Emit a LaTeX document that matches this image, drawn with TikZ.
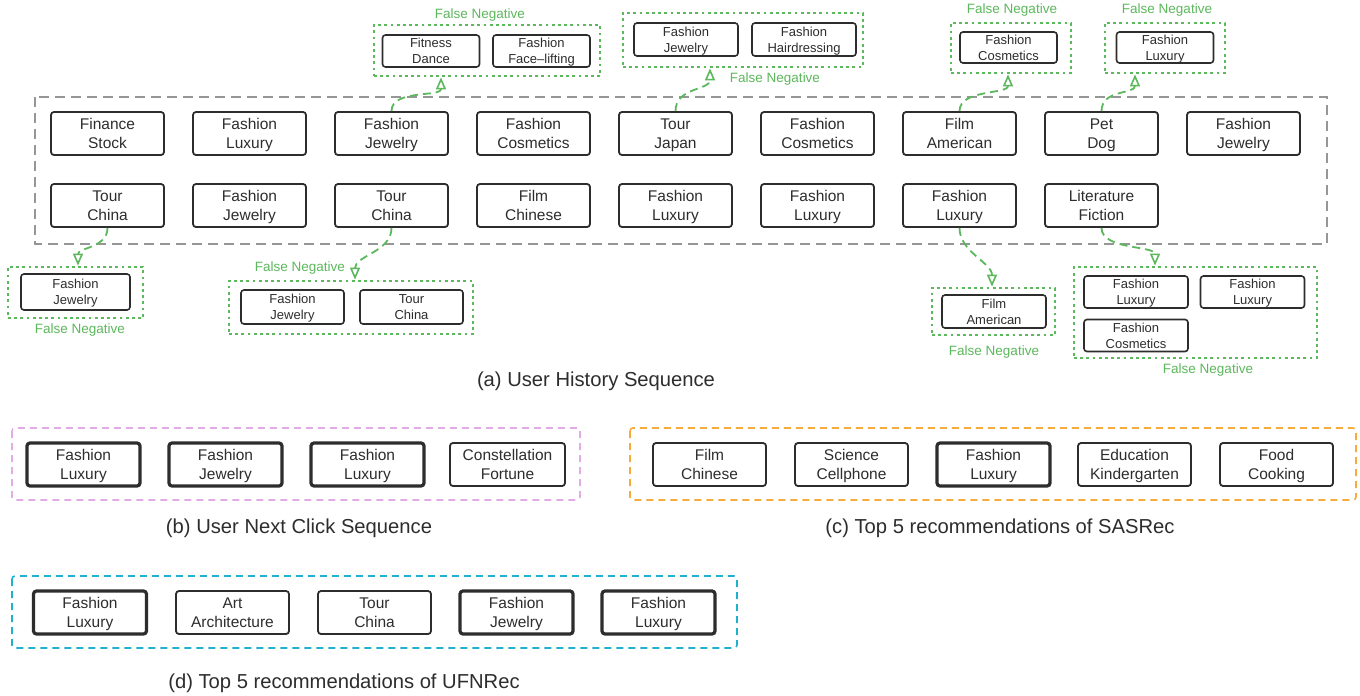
\documentclass[tikz,border=0pt]{standalone}
\usepackage{fontspec}
\setmainfont{Liberation Sans}
\usetikzlibrary{arrows.meta,calc}
\definecolor{fng}{RGB}{92,184,92}
\definecolor{boxc}{RGB}{45,45,45}
\definecolor{histc}{RGB}{150,150,150}
\definecolor{pinkc}{RGB}{225,172,230}
\definecolor{orangec}{RGB}{246,172,60}
\definecolor{cyanc}{RGB}{30,176,205}
\tikzset{
  item/.style={draw=boxc, line width=1.8pt, rounded corners=3pt, minimum width=113pt, minimum height=43pt, inner sep=0pt, align=center, text=boxc, text depth=0pt, font=\fontsize{15.5}{19}\selectfont},
  hot/.style={item, line width=3.2pt},
  smallitem/.style={draw=boxc, line width=1.6pt, rounded corners=3pt, minimum width=97pt, minimum height=32pt, inner sep=0pt, align=center, text=boxc, text depth=0pt, font=\fontsize{13}{16}\selectfont},
  fnbox/.style={draw=fng, line width=2.8pt, dash pattern=on 2.8pt off 3.4pt, inner sep=0pt},
  fnlabel/.style={text=fng, font=\fontsize{13.5}{16}\selectfont},
  fnarrow/.style={draw=fng, line width=1.8pt, dash pattern=on 8pt off 5pt, -{Triangle[open, length=12pt, width=10pt, line width=1.6pt]}},
  frame/.style={line width=1.6pt, rounded corners=3pt, dash pattern=on 7pt off 5pt},
  caption/.style={text=boxc, font=\fontsize{20.2}{24}\selectfont}
}
\begin{document}
\begin{tikzpicture}[x=1pt,y=-1pt]
\useasboundingbox[fill=white] (0,0) rectangle (1360,696);

% ---------- (a) history ----------
\draw[histc, line width=1.7pt, dash pattern=on 10pt off 6pt] (35,97) rectangle (1327,244);
\foreach \n/\t [count=\i from 0] in {a1/{Finance\\Stock},a2/{Fashion\\Luxury},a3/{Fashion\\Jewelry},a4/{Fashion\\Cosmetics},a5/{Tour\\Japan},a6/{Fashion\\Cosmetics},a7/{Film\\American},a8/{Pet\\Dog},a9/{Fashion\\Jewelry}}
  \node[item] (\n) at (107.5+142*\i,133.5) {\t};
\foreach \n/\t [count=\i from 0] in {b1/{Tour\\China},b2/{Fashion\\Jewelry},b3/{Tour\\China},b4/{Film\\Chinese},b5/{Fashion\\Luxury},b6/{Fashion\\Luxury},b7/{Fashion\\Luxury},b8/{Literature\\Fiction}}
  \node[item] (\n) at (107.5+142*\i,205.5) {\t};

% false negative groups above
\node[fnbox, minimum width=226pt, minimum height=51pt] (g1) at (487,50.5) {};
\node[smallitem] (g1a) at (431,51) {Fitness\\Dance};
\node[smallitem] (g1b) at (541.5,51) {Fashion\\Face--lifting};
\node[fnlabel] (l1) at (480,15) {False Negative};

\node[fnbox, minimum width=240pt, minimum height=54pt] (g2) at (743,40) {};
\node[smallitem, minimum width=104pt, minimum height=33pt] (g2a) at (686,39.5) {Fashion\\Jewelry};
\node[smallitem, minimum width=104pt, minimum height=33pt] (g2b) at (804,39.5) {Fashion\\Hairdressing};
\node[fnlabel] (l2) at (775,79) {False Negative};

\node[fnbox, minimum width=120pt, minimum height=50pt] (g3) at (1011,48) {};
\node[smallitem, minimum height=31pt] (g3a) at (1008.5,47.5) {Fashion\\Cosmetics};
\node[fnlabel] (l3) at (1012,10) {False Negative};

\node[fnbox, minimum width=120pt, minimum height=50pt] (g4) at (1165,48) {};
\node[smallitem, minimum height=31pt] (g4a) at (1165,47.5) {Fashion\\Luxury};
\node[fnlabel] (l4) at (1167,10) {False Negative};

% false negative groups below
\node[fnbox, minimum width=135pt, minimum height=51pt] (g5) at (75.5,292.5) {};
\node[smallitem, minimum width=109pt, minimum height=36pt] (g5a) at (75.5,292) {Fashion\\Jewelry};
\node[fnlabel] (l5) at (80,330) {False Negative};

\node[fnbox, minimum width=244pt, minimum height=53pt] (g6) at (351,307.5) {};
\node[smallitem, minimum width=103pt, minimum height=34pt] (g6a) at (292.5,307) {Fashion\\Jewelry};
\node[smallitem, minimum width=103pt, minimum height=34pt] (g6b) at (411.5,307) {Tour\\China};
\node[fnlabel] (l6) at (300,268) {False Negative};

\node[fnbox, minimum width=123pt, minimum height=47pt] (g7) at (993.5,311.5) {};
\node[smallitem, minimum width=104pt, minimum height=33pt] (g7a) at (994,311.5) {Film\\American};
\node[fnlabel] (l7) at (994,352) {False Negative};

\node[fnbox, minimum width=243pt, minimum height=91pt] (g8) at (1195.5,312.5) {};
\node[smallitem, minimum width=104pt, minimum height=32pt] (g8a) at (1136,292) {Fashion\\Luxury};
\node[smallitem, minimum width=104pt, minimum height=32pt] (g8b) at (1252.5,292) {Fashion\\Luxury};
\node[smallitem, minimum width=104pt, minimum height=32pt] (g8c) at (1136,335.5) {Fashion\\Cosmetics};
\node[fnlabel] (l8) at (1208,370) {False Negative};

% arrow end points on group frames
\coordinate (t1) at ([xshift=-46pt]g1.south);
\coordinate (t2) at ([xshift=-33pt]g2.south);
\coordinate (t3) at ([xshift=-3pt]g3.south);
\coordinate (t4) at ([xshift=-30pt]g4.south);
\coordinate (t5) at ([xshift=2.5pt]g5.north);
\coordinate (t6) at ([xshift=4pt]g6.north);
\coordinate (t7) at ([xshift=-1.5pt]g7.north);
\coordinate (t8) at ([xshift=-40.5pt]g8.north);

\draw[fnarrow] (a3.north) .. controls ($(a3.north)+(0,-22)$) and ($(t1)+(0,20)$) .. (t1);
\draw[fnarrow] (a5.north) .. controls ($(a5.north)+(0,-24)$) and ($(t2)+(0,22)$) .. (t2);
\draw[fnarrow] (a7.north) .. controls ($(a7.north)+(0,-22)$) and ($(t3)+(0,20)$) .. (t3);
\draw[fnarrow] (a8.north) .. controls ($(a8.north)+(0,-22)$) and ($(t4)+(0,20)$) .. (t4);
\draw[fnarrow] (b1.south) .. controls ($(b1.south)+(0,20)$) and ($(t5)+(0,-18)$) .. (t5);
\draw[fnarrow] (b3.south) .. controls ($(b3.south)+(0,24)$) and ($(t6)+(0,-24)$) .. (t6);
\draw[fnarrow] (b7.south) .. controls ($(b7.south)+(0,24)$) and ($(t7)+(0,-24)$) .. (t7);
\draw[fnarrow] (b8.south) .. controls ($(b8.south)+(0,22)$) and ($(t8)+(0,-20)$) .. (t8);

\node[caption] (capa) at (596,381) {(a) User History Sequence};

% ---------- (b) next click ----------
\draw[frame, draw=pinkc] (12,428) rectangle (580,500);
\node[hot] (c1) at (83.5,464.5) {Fashion\\Luxury};
\node[hot] (c2) at (225.5,464.5) {Fashion\\Jewelry};
\node[hot] (c3) at (367.5,464.5) {Fashion\\Luxury};
\node[item, minimum width=115pt] (c4) at (507.5,464.5) {Constellation\\Fortune};
\node[caption] (capb) at (299,528) {(b) User Next Click Sequence};

% ---------- (c) SASRec ----------
\draw[frame, draw=orangec] (630,428) rectangle (1356,500);
\node[item] (d1) at (709.5,464.5) {Film\\Chinese};
\node[item] (d2) at (851.5,464.5) {Science\\Cellphone};
\node[hot] (d3) at (993.5,464.5) {Fashion\\Luxury};
\node[item] (d4) at (1134.5,464.5) {Education\\Kindergarten};
\node[item] (d5) at (1276.5,464.5) {Food\\Cooking};
\node[caption] (capc) at (1000,528) {(c) Top 5 recommendations of SASRec};

% ---------- (d) UFNRec ----------
\draw[frame, draw=cyanc] (12,576) rectangle (737,648);
\node[hot] (e1) at (90,612.5) {Fashion\\Luxury};
\node[item] (e2) at (232.5,612.5) {Art\\Architecture};
\node[item] (e3) at (374.5,612.5) {Tour\\China};
\node[hot] (e4) at (516.5,612.5) {Fashion\\Jewelry};
\node[hot] (e5) at (658.5,612.5) {Fashion\\Luxury};
\node[caption] (capd) at (344,683) {(d) Top 5 recommendations of UFNRec};
\end{tikzpicture}
\end{document}
